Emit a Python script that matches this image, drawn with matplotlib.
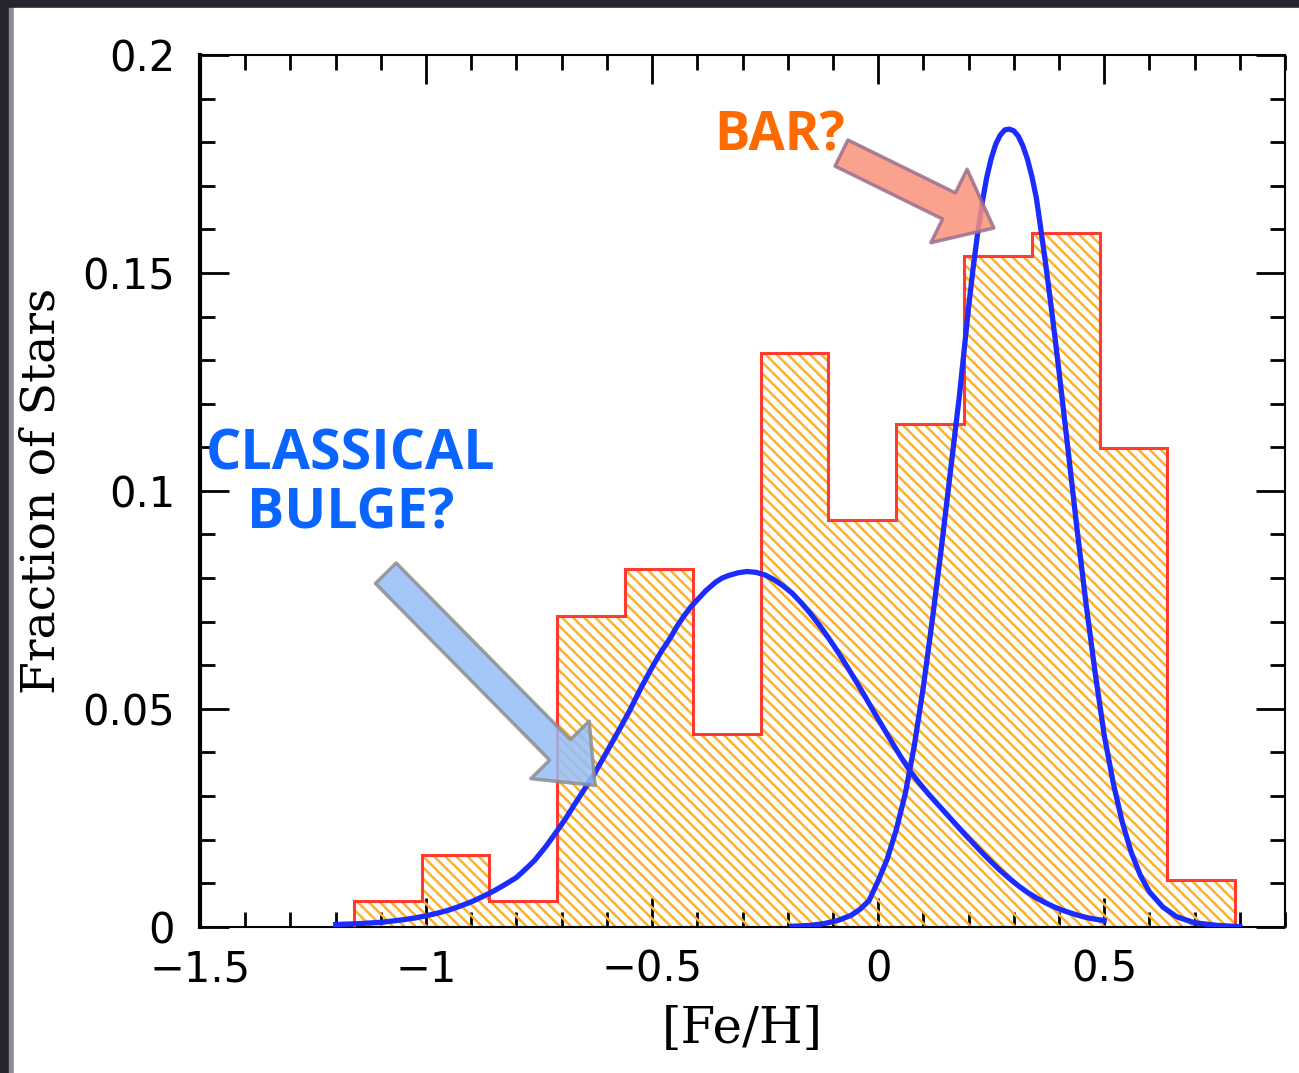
import matplotlib
matplotlib.use("Agg")
import matplotlib.pyplot as plt
from matplotlib.patches import Rectangle
from matplotlib.ticker import MultipleLocator

# histogram of [Fe/H] (bin edges and fraction of stars per bin)
bin_edges = [-1.16, -1.01, -0.86, -0.71, -0.56, -0.41, -0.26, -0.11,
             0.04, 0.19, 0.34, 0.49, 0.64, 0.79]
star_frac = [0.0059, 0.0165, 0.0059, 0.0713, 0.0821, 0.0442, 0.1317,
             0.0933, 0.1153, 0.1539, 0.1591, 0.1098, 0.0107]

# metal-poor component ("classical bulge")
bulge_x = [-1.20, -1.15, -1.125, -1.10, -1.075, -1.05, -1.025, -1.00,
           -0.975, -0.95, -0.925, -0.90, -0.875, -0.85, -0.825, -0.80,
           -0.78, -0.76, -0.735, -0.71, -0.69, -0.67, -0.65, -0.63,
           -0.61, -0.59, -0.57, -0.55, -0.525, -0.50, -0.48, -0.46,
           -0.445, -0.43, -0.415, -0.40, -0.38, -0.36, -0.345, -0.33,
           -0.31, -0.29, -0.27, -0.25, -0.23, -0.21, -0.19, -0.17,
           -0.15, -0.13, -0.11, -0.09, -0.07, -0.05, -0.03, -0.01,
           0.01, 0.03, 0.05, 0.07, 0.09, 0.11, 0.13, 0.15, 0.17, 0.19,
           0.21, 0.23, 0.25, 0.27, 0.29, 0.31, 0.33, 0.35, 0.37, 0.39,
           0.41, 0.43, 0.45, 0.47, 0.50]
bulge_y = [0.0005, 0.0007, 0.00085, 0.0010, 0.0013, 0.0016, 0.0020, 0.0025,
           0.0031, 0.0038, 0.0047, 0.0057, 0.0069, 0.0082, 0.0097, 0.0113,
           0.0132, 0.0152, 0.0184, 0.0220, 0.0250, 0.0283, 0.0315, 0.0347,
           0.0383, 0.0420, 0.0457, 0.0495, 0.0547, 0.0595, 0.0631, 0.0662,
           0.0689, 0.0712, 0.0733, 0.0750, 0.0772, 0.0790, 0.0800, 0.0806,
           0.0812, 0.0815, 0.0813, 0.0807, 0.0796, 0.0782, 0.0765, 0.0743,
           0.0719, 0.0692, 0.0663, 0.0632, 0.0599, 0.0565, 0.0530, 0.0494,
           0.0459, 0.0424, 0.0390, 0.0358, 0.0331, 0.0306, 0.0283, 0.0260,
           0.0237, 0.0214, 0.0192, 0.0170, 0.0149, 0.0129, 0.0111, 0.0094,
           0.0079, 0.0066, 0.0055, 0.0045, 0.0037, 0.0030, 0.0024, 0.0019,
           0.0014]

# metal-rich component ("bar")
bar_x = [-0.19, -0.15, -0.12, -0.09, -0.06, -0.04, -0.02, 0.00, 0.02, 0.04,
         0.06, 0.08, 0.10, 0.12, 0.14, 0.16, 0.18, 0.20, 0.21, 0.22, 0.23,
         0.24, 0.25, 0.26, 0.27, 0.28, 0.29, 0.30, 0.31, 0.32, 0.33, 0.34,
         0.35, 0.36, 0.37, 0.38, 0.39, 0.40, 0.42, 0.44, 0.46, 0.48, 0.50,
         0.52, 0.54, 0.56, 0.58, 0.60, 0.63, 0.66, 0.70, 0.75, 0.80]
bar_y = [0.0001, 0.0003, 0.0007, 0.0014, 0.0026, 0.0040, 0.0060, 0.0105,
         0.0155, 0.0222, 0.0305, 0.0415, 0.0550, 0.0705, 0.0870, 0.1045,
         0.1220, 0.1420, 0.1510, 0.1590, 0.1660, 0.1718, 0.1762, 0.1795,
         0.1816, 0.1828, 0.1830, 0.1826, 0.1814, 0.1792, 0.1762, 0.1722,
         0.1672, 0.1600, 0.1525, 0.1445, 0.1362, 0.1275, 0.1095, 0.0912,
         0.0740, 0.0583, 0.0440, 0.0330, 0.0240, 0.0170, 0.0118, 0.0080,
         0.0045, 0.0023, 0.0009, 0.0003, 0.0000]

x_ticks = [-1.5, -1.0, -0.5, 0.0, 0.5]
x_tick_labels = ["\u22121.5", "\u22121", "\u22120.5", "0", "0.5"]
y_ticks = [0.0, 0.05, 0.10, 0.15, 0.20]
y_tick_labels = ["0", "0.05", "0.1", "0.15", "0.2"]

W, H = 1299, 1073
plt.rcParams["hatch.linewidth"] = 1.8

fig = plt.figure(figsize=(W / 100, H / 100), dpi=100)
fig.patch.set_facecolor("#25252d")
# slide-like frame: dark border, thin grey line, white page
fig.add_artist(Rectangle((9 / W, 0), 5 / W, 1 - 8 / H, transform=fig.transFigure,
                         color="#8c8c94", zorder=-10))
fig.add_artist(Rectangle((14 / W, 0), 1, 1 - 8 / H, transform=fig.transFigure,
                         color="white", zorder=-9))

ax = fig.add_axes([200 / W, 146.3 / H, 1085 / W, 871.7 / H])

# hatched histogram + red outline
ax.stairs(star_frac, bin_edges, fill=True, facecolor="none",
          edgecolor="#FDB22E", hatch="\\\\\\", linewidth=0, zorder=2)
ax.stairs(star_frac, bin_edges, color="#FF3B2F", linewidth=2.2, zorder=3)

ax.plot(bulge_x, bulge_y, color="#1C2CFF", lw=3.8, solid_joinstyle="round", zorder=4)
ax.plot(bar_x, bar_y, color="#1C2CFF", lw=3.8, solid_joinstyle="round", zorder=4)

ax.set_xlim(-1.5, 0.9)
ax.set_ylim(0, 0.2)
ax.set_xticks(x_ticks, x_tick_labels)
ax.set_yticks(y_ticks, y_tick_labels)
ax.xaxis.set_minor_locator(MultipleLocator(0.1))
ax.yaxis.set_minor_locator(MultipleLocator(0.01))
ax.tick_params(which="both", direction="in", top=True, right=True, color="black")
ax.tick_params(which="major", length=21, width=2)
ax.tick_params(which="minor", length=11, width=2)
ax.tick_params(axis="y", labelsize=30, pad=18)
ax.tick_params(axis="x", labelsize=30, pad=16)

for side in ["top", "right", "bottom"]:
    ax.spines[side].set_linewidth(1.5)
ax.spines["left"].set_linewidth(3.0)

ax.set_xlabel("[Fe/H]", family="DejaVu Serif", fontsize=36)
ax.set_ylabel("Fraction of Stars", family="DejaVu Serif", fontsize=34)
ax.xaxis.set_label_coords(0.5, -0.118)
ax.yaxis.set_label_coords(-0.146, 0.5)
ax.xaxis.label.set_va("center")
ax.yaxis.label.set_va("center")

# annotations
ax.text(-0.217, 0.1782, "BAR?", color="#FF6A00", fontsize=38, fontweight="bold",
        family=["Open Sans", "DejaVu Sans"], ha="center", va="baseline", zorder=6)
ax.text(-1.166, 0.1050, "CLASSICAL", color="#0A64FF", fontsize=40, fontweight="bold",
        family=["Open Sans", "DejaVu Sans"], ha="center", va="baseline", zorder=6)
ax.text(-1.166, 0.0913, "BULGE?", color="#0A64FF", fontsize=40, fontweight="bold",
        family=["Open Sans", "DejaVu Sans"], ha="center", va="baseline", zorder=6)

arrow_style = "simple,head_length=1.8,head_width=2.95,tail_width=1.05"
ax.annotate("", xy=(0.256, 0.1603), xytext=(-0.081, 0.1775),
            arrowprops=dict(arrowstyle=arrow_style, mutation_scale=20,
                            fc="#F9937C", ec="#9A6E8E", lw=2.5, alpha=0.85,
                            shrinkA=0, shrinkB=0), zorder=5)
ax.annotate("", xy=(-0.626, 0.0324), xytext=(-1.089, 0.0811),
            arrowprops=dict(arrowstyle=arrow_style, mutation_scale=20,
                            fc="#94BDF6", ec="#8E8E8E", lw=2.5, alpha=0.85,
                            shrinkA=0, shrinkB=0), zorder=5)

fig.savefig("out.png", dpi=100)
